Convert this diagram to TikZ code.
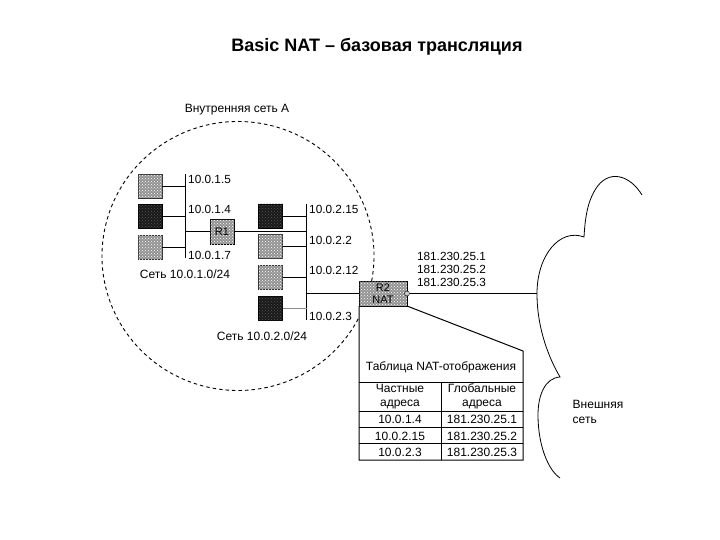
\documentclass[tikz,border=0pt]{standalone}
\usepackage{fontspec}
\usetikzlibrary{patterns}
\setmainfont{Liberation Sans}
\tikzset{
  host/.style={draw=black!80,minimum size=24pt,inner sep=0pt,fill=gray!85,postaction={pattern=crosshatch dots,pattern color=white}},
  hostdark/.style={draw=black,minimum size=24pt,inner sep=0pt,fill=black!90,postaction={pattern=crosshatch dots,pattern color=black!65}},
  router/.style={draw=black,fill=gray!85,postaction={pattern=crosshatch dots,pattern color=white},inner sep=0pt,align=center,font=\fontsize{11}{12.5}\selectfont},
  addr/.style={anchor=west,inner sep=0pt,font=\fontsize{11.8}{12}\selectfont},
  lbl/.style={inner sep=0pt,align=center,font=\fontsize{12}{14.5}\selectfont},
  wire/.style={line width=0.9pt},
}
\begin{document}
\begin{tikzpicture}[x=1pt,y=-1pt]
\useasboundingbox (0,0) rectangle (720,540);
\node[inner sep=0pt,font=\fontsize{18}{20}\bfseries\selectfont] (title) at (377,47) {Basic NAT – базовая трансляция};
% inner network
\draw[line width=0.9pt,dash pattern=on 3.5pt off 3pt] (238,256) ++(-10.7:136pt and 134.5pt) arc[start angle=-10.7,end angle=333,x radius=136pt,y radius=134.5pt];
\node[lbl] (inner) at (237,110) {Внутренняя сеть A};
% first subnet
\node[host] (h1) at (150,186) {};
\node[hostdark] (h2) at (150,216.5) {};
\node[host] (h3) at (150,247) {};
\coordinate (b1top) at (185,174);
\coordinate (b1bot) at (185,258);
\draw[wire] (b1top) -- (b1bot);
\draw[wire] (h1.east) -- (h1.east -| b1top);
\draw[wire] (h2.east) -- (h2.east -| b1top);
\draw[wire] (h3.east) -- (h3.east -| b1top);
\node[addr] (a1) at (188,179) {10.0.1.5};
\node[addr] (a2) at (188,209.5) {10.0.1.4};
\node[addr] (a3) at (188,255) {10.0.1.7};
\node[lbl] (net1) at (185,274) {Сеть 10.0.1.0/24};
% second subnet
\coordinate (b2top) at (306.5,204);
\coordinate (b2bot) at (306.5,320);
\node[router,minimum width=24pt,minimum height=25pt] (R1) at (222,231.5) {R1};
\draw[wire] (R1.west) -- (R1.west -| b1top);
\draw[wire] (R1.east) -- (R1.east -| b2top);
\node[hostdark] (h4) at (270.5,216) {};
\node[host] (h5) at (270.5,246.5) {};
\node[host] (h6) at (270.5,277) {};
\node[hostdark] (h7) at (270.5,308) {};
\draw[wire] (b2top) -- (b2bot);
\draw[wire] (h4.east) -- (h4.east -| b2top);
\draw[wire] (h5.east) -- (h5.east -| b2top);
\draw[wire] (h6.east) -- (h6.east -| b2top);
\draw[wire,black!45] (h7.east) -- (h7.east -| b2top);
\node[addr] (a4) at (309,209.5) {10.0.2.15};
\node[addr] (a5) at (309,240) {10.0.2.2};
\node[addr] (a6) at (309,270) {10.0.2.12};
\node[addr] (a7) at (309,316) {10.0.2.3};
\node[lbl] (net2) at (262,336) {Сеть 10.0.2.0/24};
% border router
\node[router,line width=0.9pt,minimum width=48pt,minimum height=25pt] (R2) at (383,293.5) {R2\\NAT};
\draw[wire] (R2.west) -- (R2.west -| b2top);
\node[draw=black,fill=gray!40,circle,minimum size=5pt,inner sep=0pt] (port) at (407,293.5) {};
\node[lbl,font=\fontsize{11.8}{13}\selectfont] (pub) at (451.5,269) {181.230.25.1\\181.230.25.2\\181.230.25.3};
% outer cloud
\coordinate (cl) at (537,293.5);
\draw (port.east) -- (cl);
\draw[line width=0.8pt] (642,195) .. controls (630,175) and (608,168) .. (595,190)
  .. controls (587,203) and (585,220) .. (584,237)
  .. controls (560,228) and (537,255) .. (537,293.5)
  .. controls (537,330) and (550,360) .. (560,377)
  .. controls (545,378) and (538,395) .. (538,415)
  .. controls (538,445) and (548,470) .. (560,478);
\node[lbl,align=left] (outer) at (598,412) {Внешняя\\сеть};
% table
\coordinate (ttl) at (359,306);
\coordinate (ttr) at (407,306);
\coordinate (tnr) at (523,351);
\coordinate (tbl) at (359,460);
\coordinate (tbr) at (523,460);
\draw[line width=1pt] (ttr) -- (tnr) -- (tbr) -- (tbl) -- (ttl);
\draw[line width=1pt] (359,382) -- (523,382);
\draw[line width=1pt] (359,411) -- (523,411);
\draw[line width=1pt] (359,427) -- (523,427);
\draw[line width=1pt] (359,443.5) -- (523,443.5);
\draw[line width=1pt] (441,382) -- (441,460);
\node[lbl] (ttitle) at (441,367) {Таблица NAT-отображения};
\node[lbl] (c1) at (400,396.5) {Частные\\адреса};
\node[lbl] (c2) at (482,396.5) {Глобальные\\адреса};
\node[lbl] (r11) at (400,419.5) {10.0.1.4};
\node[lbl] (r12) at (482,419.5) {181.230.25.1};
\node[lbl] (r21) at (400,436) {10.0.2.15};
\node[lbl] (r22) at (482,436) {181.230.25.2};
\node[lbl] (r31) at (400,452) {10.0.2.3};
\node[lbl] (r32) at (482,452) {181.230.25.3};
\end{tikzpicture}
\end{document}
